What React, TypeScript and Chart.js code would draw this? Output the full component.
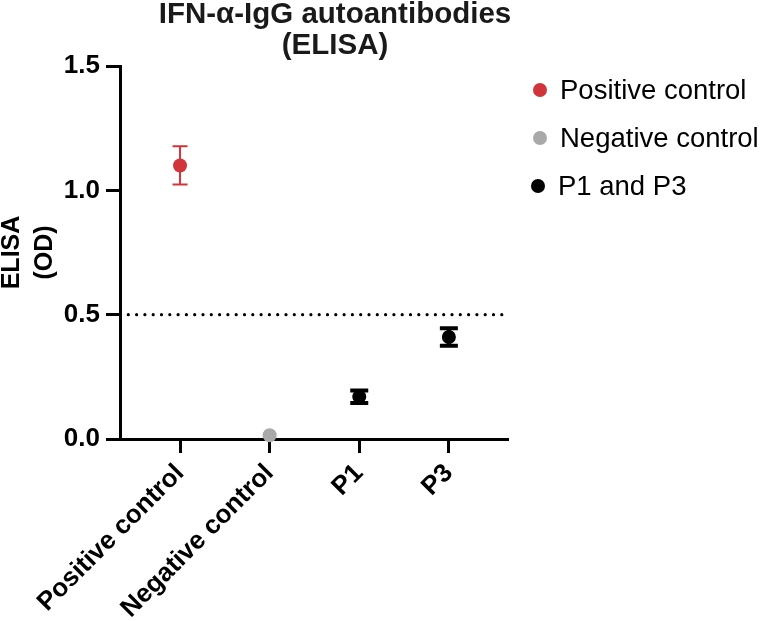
import React, { useEffect, useRef } from 'react';
import { Chart, registerables } from 'chart.js';

Chart.register(...registerables);

// ---- Data ----
const categories = ['Positive control', 'Negative control', 'P1', 'P3'];
const groupNames = ['Positive control', 'Negative control', 'P1 and P3'];
const groupCategoryIndex = [[0], [1], [2, 3]];
const groupMeans = [[1.1], [0.015], [0.17, 0.41]];
const groupErrors = [[0.077], [0], [0.025, 0.035]];
const groupColors = ['#D1343B', '#A9A9A9', '#000000'];
const yTicks = [0, 0.5, 1.0, 1.5];
const thresholdValue = 0.5;
const titleLines = ['IFN-α-IgG autoantibodies', '(ELISA)'];
const yTitleLines = ['ELISA', '(OD)'];

const FONT = '"Liberation Sans", Arial, Helvetica, sans-serif';
const errorStyle = [
  { width: 2, cap: 15 },
  { width: 2, cap: 15 },
  { width: 4, cap: 18 },
];

const errorBarPlugin = {
  id: 'errorBars',
  beforeDatasetsDraw(chart: any) {
    const { ctx, scales } = chart;
    const xs = scales.x;
    const ys = scales.y;
    groupMeans.forEach((means, g) => {
      means.forEach((m, i) => {
        const e = groupErrors[g][i];
        if (!e) return;
        const px = xs.getPixelForValue(groupCategoryIndex[g][i]);
        const yt = ys.getPixelForValue(m + e);
        const yb = ys.getPixelForValue(m - e);
        const st = errorStyle[g];
        ctx.save();
        ctx.strokeStyle = groupColors[g];
        ctx.lineWidth = st.width;
        ctx.lineCap = 'butt';
        ctx.beginPath();
        ctx.moveTo(px, yt);
        ctx.lineTo(px, yb);
        ctx.moveTo(px - st.cap / 2, yt);
        ctx.lineTo(px + st.cap / 2, yt);
        ctx.moveTo(px - st.cap / 2, yb);
        ctx.lineTo(px + st.cap / 2, yb);
        ctx.stroke();
        ctx.restore();
      });
    });
  },
};

const legendPlugin = {
  id: 'sideLegend',
  afterDraw(chart: any) {
    const { ctx, chartArea } = chart;
    const x0 = chartArea.right + 32;
    ctx.save();
    groupNames.forEach((name, i) => {
      const y = chartArea.top + 24 + i * 48;
      const dx = i === 2 ? -2 : 0;
      ctx.fillStyle = groupColors[i];
      ctx.beginPath();
      ctx.arc(x0 + dx, y, 7, 0, Math.PI * 2);
      ctx.fill();
      ctx.fillStyle = '#000';
      ctx.font = `27.5px ${FONT}`;
      ctx.textAlign = 'left';
      ctx.textBaseline = 'middle';
      ctx.fillText(name, x0 + 20 + dx, y + 1);
    });
    ctx.restore();
  },
};

export default function App() {
  const ref = useRef<HTMLCanvasElement>(null);

  useEffect(() => {
    document.body.style.margin = '0';
    const canvas = ref.current;
    if (!canvas) return;
    const xMin = -0.67;
    const xMax = 3.66;

    const pointDatasets = groupMeans.map((means, g) => ({
      type: 'scatter' as const,
      label: groupNames[g],
      data: means.map((m, i) => ({ x: groupCategoryIndex[g][i], y: m })),
      backgroundColor: groupColors[g],
      borderColor: groupColors[g],
      pointRadius: 7,
      pointHoverRadius: 7,
      borderWidth: 0,
      clip: false as any,
      order: 1,
    }));

    const thresholdDataset = {
      type: 'line' as const,
      label: 'threshold',
      data: [
        { x: xMin, y: thresholdValue },
        { x: xMax - 0.03, y: thresholdValue },
      ],
      borderColor: '#000',
      borderWidth: 3.2,
      borderDash: [0, 8.3],
      borderCapStyle: 'round' as const,
      pointRadius: 0,
      fill: false,
      order: 2,
    };

    const tickFont = { family: FONT, size: 26, weight: 'bold' as const };

    const chart = new Chart(canvas, {
      type: 'scatter',
      data: { datasets: [thresholdDataset as any, ...pointDatasets] },
      options: {
        animation: false,
        responsive: false,
        devicePixelRatio: 1,
        events: [],
        layout: { padding: { top: 66, right: 252, bottom: 0, left: 0 } },
        plugins: {
          legend: { display: false },
          tooltip: { enabled: false },
          title: { display: false },
        },
        scales: {
          x: {
            type: 'linear',
            min: xMin,
            max: xMax,
            afterBuildTicks: (s: any) => {
              s.ticks = categories.map((_, i) => ({ value: i }));
            },
            afterFit: (s: any) => {
              s.height = 182;
            },
            grid: {
              drawOnChartArea: false,
              drawTicks: true,
              tickLength: 14,
              tickWidth: 3,
              tickColor: '#000',
            },
            border: { display: true, color: '#000', width: 3 },
            ticks: {
              autoSkip: false,
              minRotation: 45,
              maxRotation: 45,
              padding: 5,
              color: '#000',
              font: tickFont,
              callback: (v: any) => categories[Math.round(Number(v))] ?? '',
            },
          },
          y: {
            type: 'linear',
            min: 0,
            max: 1.5,
            afterBuildTicks: (s: any) => {
              s.ticks = yTicks.map((v) => ({ value: v }));
            },
            afterFit: (s: any) => {
              s.width = 120;
            },
            grid: {
              drawOnChartArea: false,
              drawTicks: true,
              tickLength: 14,
              tickWidth: 3,
              tickColor: '#000',
            },
            border: { display: true, color: '#000', width: 3 },
            ticks: {
              padding: 6,
              color: '#000',
              font: tickFont,
              callback: (v: any) => Number(v).toFixed(1),
            },
            title: {
              display: true,
              text: yTitleLines,
              color: '#000',
              font: { family: FONT, size: 25, weight: 'bold', lineHeight: 1.32 },
              padding: { top: -4, bottom: 0 },
            },
          },
        },
      },
      plugins: [errorBarPlugin, legendPlugin],
    });
    return () => chart.destroy();
  }, []);

  return (
    <div style={{ position: 'relative', width: 760, height: 621 }}>
      <canvas ref={ref} width={760} height={621} style={{ display: 'block' }} />
      <div
        style={{
          position: 'absolute',
          top: -3,
          left: 0,
          width: 670,
          textAlign: 'center',
          fontFamily: FONT,
          fontWeight: 'bold',
          fontSize: 29.5,
          lineHeight: '31px',
          color: '#1a1a1a',
          whiteSpace: 'nowrap',
        }}
      >
        {titleLines.map((t) => (
          <div key={t}>{t}</div>
        ))}
      </div>
    </div>
  );
}
